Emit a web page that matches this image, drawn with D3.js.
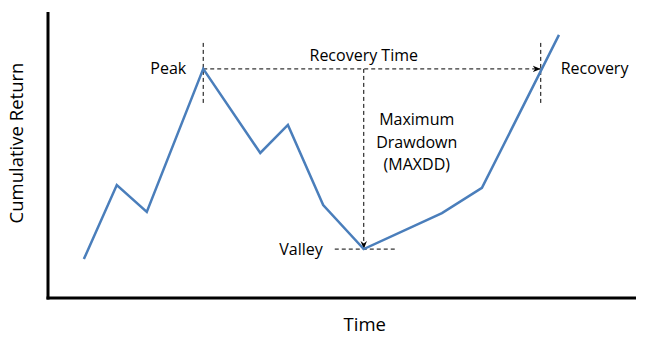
<!DOCTYPE html>
<html><head><meta charset="utf-8">
<script src="https://cdn.jsdelivr.net/npm/d3@7"></script>
<style>html,body{margin:0;padding:0;background:#fff;} svg{display:block;} text{font-family:"Open Sans",sans-serif;fill:#000;}</style>
</head><body>
<svg id="c" width="645" height="340"></svg>
<script>
// Data (time units 0-100, cumulative return units 0-100)
const timePoints = [6.1, 11.7, 16.8, 26.4, 36.1, 40.8, 46.8, 53.7, 67.0, 73.8, 86.9];
const returnValues = [13.6, 39.5, 30.1, 80.1, 50.7, 60.5, 32.5, 17.1, 29.7, 38.5, 92.0];
const peakTime = 26.4, peakValue = 80.1;
const valleyTime = 53.7, valleyValue = 17.1;
const recoveryTime = 83.8;
const labels = {peak: "Peak", valley: "Valley", recovery: "Recovery", recoveryTime: "Recovery Time",
  mdd: ["Maximum", "Drawdown", "(MAXDD)"], xTitle: "Time", yTitle: "Cumulative Return"};

const svg = d3.select("#c");
const x = d3.scaleLinear().domain([0, 100]).range([48, 636]);
const y = d3.scaleLinear().domain([0, 100]).range([298, 12]);

const defs = svg.append("defs");
defs.append("marker").attr("id","arr").attr("viewBox","0 0 10 10").attr("refX",10).attr("refY",5)
  .attr("markerWidth",8).attr("markerHeight",8).attr("orient","auto")
  .append("path").attr("d","M0,1 L10,5 L0,9 L3,5 Z").attr("fill","#000");

// axes
svg.append("line").attr("x1",x(0)).attr("x2",x(0)).attr("y1",y(100)).attr("y2",y(0)+1.5).attr("stroke","#000").attr("stroke-width",3);
svg.append("line").attr("x1",x(0)-1.5).attr("x2",x(100)).attr("y1",y(0)).attr("y2",y(0)).attr("stroke","#000").attr("stroke-width",3);

// dashed guides
const dash = "4,3";
const g = svg.append("g").attr("stroke","#000").attr("stroke-width",1).attr("stroke-dasharray",dash).attr("fill","none");
g.append("line").attr("x1",x(peakTime)).attr("x2",x(peakTime)).attr("y1",y(peakValue)-26).attr("y2",y(peakValue)+34);
g.append("line").attr("x1",x(recoveryTime)).attr("x2",x(recoveryTime)).attr("y1",y(peakValue)-26).attr("y2",y(peakValue)+34);
g.append("line").attr("x1",x(peakTime)).attr("x2",x(recoveryTime)).attr("y1",y(peakValue)).attr("y2",y(peakValue)).attr("marker-end","url(#arr)");
g.append("line").attr("x1",x(valleyTime)).attr("x2",x(valleyTime)).attr("y1",y(peakValue)).attr("y2",y(valleyValue)).attr("marker-end","url(#arr)");
g.append("line").attr("x1",x(valleyTime)-29).attr("x2",x(valleyTime)+31).attr("y1",y(valleyValue)).attr("y2",y(valleyValue));

// line
const data = timePoints.map((t,i)=>[t, returnValues[i]]);
svg.append("path").datum(data).attr("fill","none").attr("stroke","#4a7ebb").attr("stroke-width",2.5)
  .attr("stroke-linejoin","miter").attr("d", d3.line().x(d=>x(d[0])).y(d=>y(d[1])));

// text
const fs = 16;
svg.append("text").attr("x",x(peakTime)-17).attr("y",y(peakValue)+5).attr("text-anchor","end").attr("font-size",fs).text(labels.peak);
svg.append("text").attr("x",x(valleyTime)).attr("y",y(peakValue)-8).attr("text-anchor","middle").attr("font-size",fs).text(labels.recoveryTime);
svg.append("text").attr("x",x(recoveryTime)+20).attr("y",y(peakValue)+5).attr("font-size",fs).text(labels.recovery);
svg.append("text").attr("x",x(valleyTime)-41).attr("y",y(valleyValue)+6).attr("text-anchor","end").attr("font-size",fs).text(labels.valley);
labels.mdd.forEach((s,i)=>svg.append("text").attr("x",x(valleyTime)+53).attr("y",125+i*22.5).attr("text-anchor","middle").attr("font-size",fs).text(s));
svg.append("text").attr("x",x(valleyTime)+1).attr("y",331).attr("text-anchor","middle").attr("font-size",18.5).text(labels.xTitle);
svg.append("text").attr("transform","translate(23,143) rotate(-90)").attr("text-anchor","middle").attr("font-size",18.5).text(labels.yTitle);
</script>
</body></html>
